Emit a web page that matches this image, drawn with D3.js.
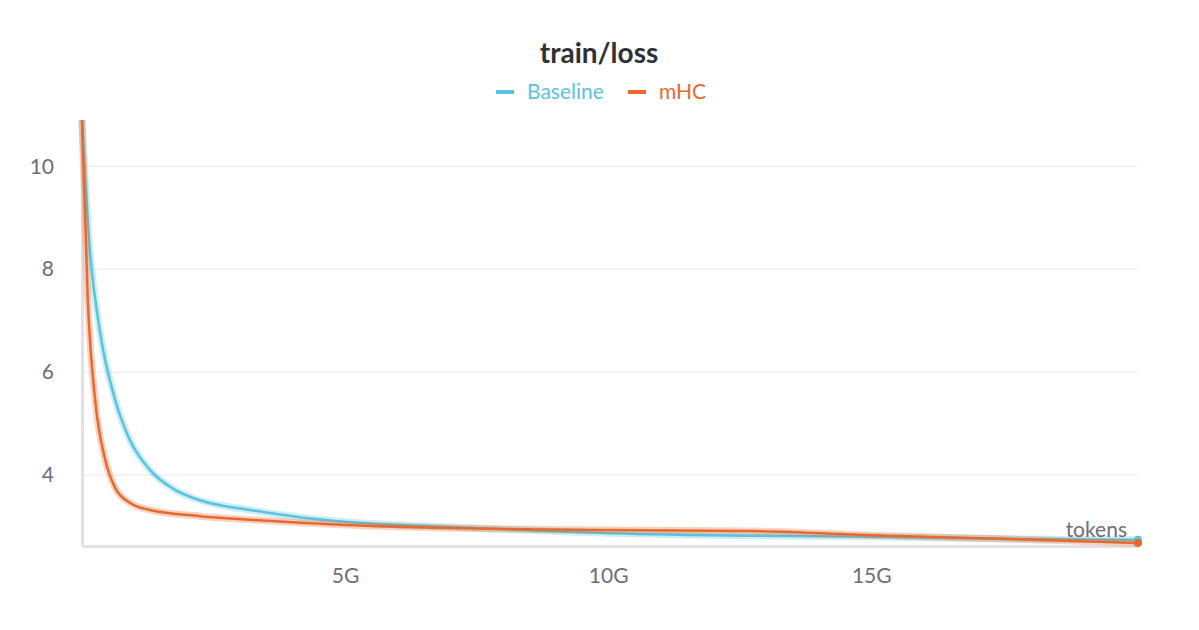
<!DOCTYPE html>
<html>
<head>
<meta charset="utf-8">
<script src="https://cdn.jsdelivr.net/npm/d3@7"></script>
<style>
body { margin: 0; background: #fff; font-family: "Source Sans Pro", Lato, "Open Sans", sans-serif; }
</style>
</head>
<body>
<div class="container"></div>
<script>
var W = 1199, H = 630;
var M = {left: 82, right: 61, top: 120, bottom: 84};

// tokens in G, loss values
var baselineX = [0, 0.15, 0.34, 0.63, 0.91, 1.29, 1.77, 2.24, 3.2, 4.14, 5, 7, 10, 12.7, 15, 17.45, 20.07];
var baselineY = [10.9, 8.37, 6.8, 5.46, 4.68, 4.1, 3.71, 3.51, 3.32, 3.18, 3.09, 2.99, 2.87, 2.82, 2.8, 2.76, 2.74];
var mhcX = [0, 0.11, 0.25, 0.44, 0.63, 0.91, 1.29, 2.24, 3.2, 5, 7, 10, 12.7, 15, 17.45, 20.07];
var mhcY = [10.9, 7.4, 5.46, 4.3, 3.75, 3.46, 3.32, 3.2, 3.13, 3.03, 2.97, 2.93, 2.91, 2.83, 2.76, 2.68];
var yTicks = [4, 6, 8, 10];
var xTicks = [5, 10, 15];

var series = [
  {name: "Baseline", color: "#5bc3dd", xs: baselineX, ys: baselineY},
  {name: "mHC", color: "#e8692e", xs: mhcX, ys: mhcY}
];

var svg = d3.select(".container").append("svg").attr("width", W).attr("height", H);

var x = d3.scaleLinear().domain([0, 20.07]).range([M.left, W - M.right]);
var y = d3.scaleLinear().domain([2.62, 10.9]).range([H - M.bottom, M.top]);

// grid
svg.append("g").selectAll("line").data(yTicks).join("line")
  .attr("x1", M.left).attr("x2", W - M.right)
  .attr("y1", function(d){ return y(d); }).attr("y2", function(d){ return y(d); })
  .attr("stroke", "#e8e8ec").attr("stroke-width", 1);

// y axis
var ya = svg.append("g").attr("transform", "translate(" + M.left + ",0)")
  .call(d3.axisLeft(y).tickValues(yTicks).tickSize(0).tickPadding(28));
ya.select(".domain").attr("stroke", "#e2e2e6").attr("stroke-width", 3);
ya.selectAll("text").attr("font-size", 21).attr("fill", "#6b6e78").attr("font-family", "Lato, sans-serif");

// x axis
var xa = svg.append("g").attr("transform", "translate(0," + (H - M.bottom) + ")")
  .call(d3.axisBottom(x).tickValues(xTicks).tickFormat(function(d){ return d + "G"; }).tickSize(0).tickPadding(22));
xa.select(".domain").attr("stroke", "#e2e2e6").attr("stroke-width", 3);
xa.selectAll("text").attr("font-size", 21).attr("fill", "#6b6e78").attr("font-family", "Lato, sans-serif");

var line = d3.line().curve(d3.curveMonotoneX)
  .x(function(d){ return x(d[0]); }).y(function(d){ return y(d[1]); });

series.forEach(function(s){
  var pts = s.xs.map(function(v, i){ return [v, s.ys[i]]; });
  svg.append("path").datum(pts).attr("d", line)
    .attr("fill", "none").attr("stroke", s.color).attr("stroke-opacity", 0.3).attr("stroke-width", 7);
  svg.append("path").datum(pts).attr("d", line)
    .attr("fill", "none").attr("stroke", s.color).attr("stroke-width", 2.5);
  var last = pts[pts.length - 1];
  svg.append("circle").attr("cx", x(last[0])).attr("cy", y(last[1])).attr("r", 4).attr("fill", s.color);
});

svg.append("text").attr("x", 1127).attr("y", 537).attr("text-anchor", "end")
  .attr("font-size", 21).attr("fill", "#6b6e78").attr("font-family", "Lato, sans-serif").text("tokens");

// title
svg.append("text").attr("x", 599).attr("y", 63).attr("text-anchor", "middle")
  .attr("font-size", 28).attr("font-weight", "bold").attr("fill", "#2f3136")
  .attr("font-family", "Lato, sans-serif").text("train/loss");

// legend
var legX = [496, 628];
series.forEach(function(s, i){
  var g = svg.append("g").attr("transform", "translate(" + legX[i] + ",92)");
  g.append("line").attr("x1", 0).attr("x2", 18).attr("y1", 0).attr("y2", 0)
    .attr("stroke", s.color).attr("stroke-width", 4);
  g.append("text").attr("x", 31).attr("y", 7).attr("font-size", 21)
    .attr("fill", s.color).attr("font-family", "Lato, sans-serif").text(s.name);
});
</script>
</body>
</html>
